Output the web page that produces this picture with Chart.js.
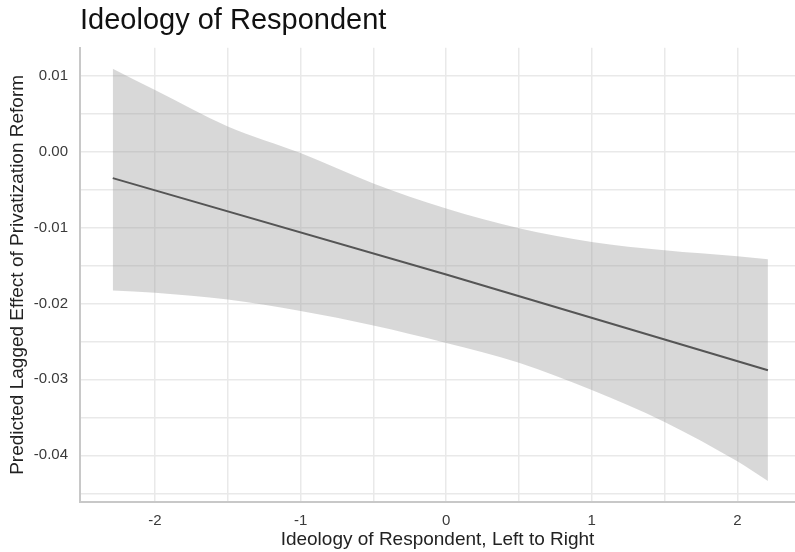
<!DOCTYPE html>
<html>
<head>
<meta charset="utf-8">
<script src="https://cdn.jsdelivr.net/npm/chart.js@4/dist/chart.umd.min.js"></script>
<style>
  html, body { margin: 0; padding: 0; background: #fff; }
  #wrap { width: 795px; height: 552px; }
</style>
</head>
<body>
<div id="wrap"><canvas id="c"></canvas></div>
<script>
const bandX = [-2.29, -2, -1.5, -1, -0.5, 0, 0.5, 1, 1.5, 2, 2.21];
const bandUpper = [0.0109, 0.0081, 0.0033, -0.0002, -0.0042, -0.0075, -0.0101, -0.0119, -0.0130, -0.0138, -0.0142];
const bandLower = [-0.0183, -0.0186, -0.0195, -0.0210, -0.0229, -0.0252, -0.0278, -0.0314, -0.0356, -0.0408, -0.0434];

// fitted line
const lineX = [-2.29, 0, 2.21];
const lineY = [-0.0035, -0.0162, -0.0288];

// ticks (major + minor grid) and their labels
const xTicks = [-2, -1.5, -1, -0.5, 0, 0.5, 1, 1.5, 2];
const xTickLabels = ['-2', '', '-1', '', '0', '', '1', '', '2'];
const yTicks = [-0.045, -0.04, -0.035, -0.03, -0.025, -0.02, -0.015, -0.01, -0.005, 0, 0.005, 0.01];
const yTickLabels = ['', '-0.04', '', '-0.03', '', '-0.02', '', '-0.01', '', '0.00', '', '0.01'];

const toPts = (xs, ys) => xs.map((x, i) => ({ x: x, y: ys[i] }));

const FONT = 'Liberation Sans, Arial, sans-serif';
const gridStyle = { color: '#e9e9e9', lineWidth: 1.5, drawTicks: false };
const borderStyle = { display: true, color: '#c8c8c8', width: 2 };

new Chart(document.getElementById('c'), {
    type: 'line',
    data: {
        datasets: [
            { data: toPts(lineX, lineY), borderColor: '#555555', borderWidth: 2, pointRadius: 0, fill: false, tension: 0 },
            { data: toPts(bandX, bandUpper), borderWidth: 0, pointRadius: 0, fill: '+1', backgroundColor: 'rgba(153,153,153,0.38)', cubicInterpolationMode: 'monotone' },
            { data: toPts(bandX, bandLower), borderWidth: 0, pointRadius: 0, fill: false, cubicInterpolationMode: 'monotone' }
        ]
    },
    options: {
        responsive: true,
        maintainAspectRatio: false,
        animation: false,
        layout: { padding: 0 },
        plugins: {
            legend: { display: false },
            tooltip: { enabled: false },
            title: {
                display: true,
                text: 'Ideology of Respondent',
                align: 'start',
                fullSize: false,
                color: '#111',
                font: { family: FONT, size: 29, weight: 'normal' },
                padding: { top: 4, bottom: 9 }
            }
        },
        scales: {
            x: {
                type: 'linear',
                min: -2.515,
                max: 2.396,
                grid: gridStyle,
                border: borderStyle,
                afterBuildTicks: s => { s.ticks = xTicks.map(v => ({ value: v })); },
                afterFit: s => { s.height = 50; },
                ticks: {
                    autoSkip: false,
                    maxRotation: 0,
                    padding: 10,
                    color: '#3a3a3a',
                    font: { family: FONT, size: 15 },
                    callback: (v, i) => xTickLabels[i]
                },
                title: {
                    display: true,
                    text: 'Ideology of Respondent, Left to Right',
                    color: '#222',
                    font: { family: FONT, size: 19 },
                    padding: { top: 0, bottom: 1 }
                }
            },
            y: {
                type: 'linear',
                min: -0.04615,
                max: 0.01366,
                grid: gridStyle,
                border: borderStyle,
                afterBuildTicks: s => { s.ticks = yTicks.map(v => ({ value: v })); },
                afterFit: s => { s.width = 80; },
                ticks: {
                    autoSkip: false,
                    padding: 12,
                    color: '#3a3a3a',
                    font: { family: FONT, size: 15 },
                    callback: (v, i) => yTickLabels[i]
                },
                title: {
                    display: true,
                    text: 'Predicted Lagged Effect of Privatization Reform',
                    color: '#222',
                    font: { family: FONT, size: 19 },
                    padding: { top: 6, bottom: 0 }
                }
            }
        }
    }
});
</script>
</body>
</html>
